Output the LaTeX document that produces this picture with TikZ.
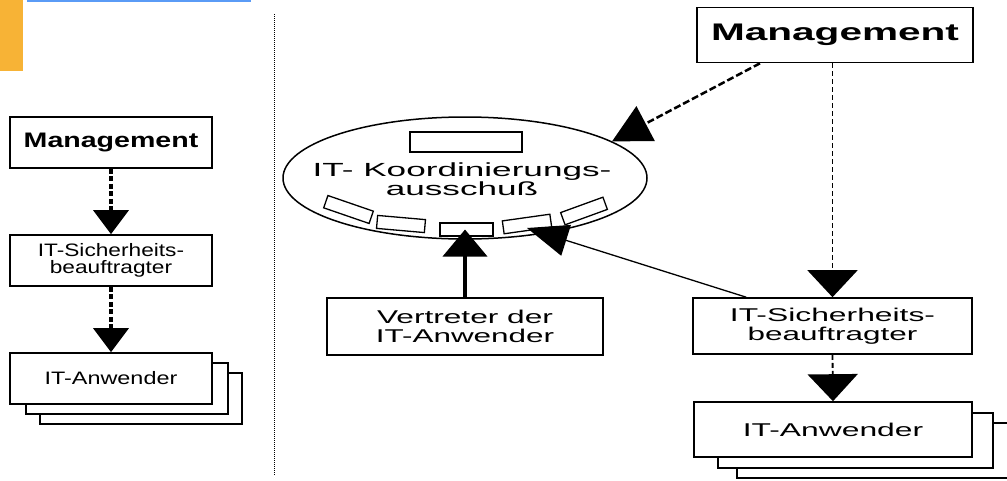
\documentclass[tikz,border=0pt]{standalone}
\usepackage{graphicx}
\usepackage{fontspec}
\setmainfont{Liberation Sans}
\usetikzlibrary{arrows.meta,shapes.geometric}
\definecolor{barorange}{HTML}{F7B336}
\definecolor{barblue}{HTML}{5A9BF6}
\newcommand{\hs}[2]{\scalebox{#1}[1]{#2}}
\begin{document}
\begin{tikzpicture}[x=1pt,y=-1pt,
  box/.style={draw, line width=1.6pt, fill=white, inner sep=0pt, align=center},
  lbox/.style={box, minimum width=202pt, minimum height=51pt, font=\fontsize{18}{17}\selectfont},
  rbox/.style={box, minimum width=278pt, minimum height=56pt, font=\fontsize{18.5}{19}\selectfont},
  slot/.style={draw, line width=1.3pt, fill=white, minimum width=48pt, minimum height=13pt, inner sep=0pt},
  ldash/.style={line width=3.5pt, dash pattern=on 5pt off 2.5pt, -{Triangle[length=24pt,width=35pt]}},
  rdash/.style={line width=1.8pt, dash pattern=on 5pt off 3pt, -{Triangle[length=27pt,width=50pt]}},
  ddash/.style={line width=2.5pt, dash pattern=on 7pt off 3pt, -{Triangle[length=38pt,width=39pt]}},
  thick arrow/.style={line width=4pt, -{Triangle[length=27pt,width=44pt]}},
  thin arrow/.style={line width=1.3pt, -{Triangle[length=41pt,width=32pt]}}
]
\useasboundingbox (0,0) rectangle (1007,480);
% header decorations
\fill[barorange] (0,0) rectangle (23,71);
\fill[barblue] (27,0) rectangle (251,2);
% separator
\draw[line width=1pt, dash pattern=on 1pt off 1pt] (274,14) -- (274,476);

% ---------- left column ----------
\node[lbox, font=\bfseries\fontsize{21}{21}\selectfont] (lmgmt) at (111,142.5) {\hs{1.36}{Management}};
\node[lbox] (lsich) at (111,260.5) {\hs{1.26}{IT-Sicherheits-}\\\hs{1.26}{beauftragter}};
\node[lbox] (lanw3) at (141,398.5) {};
\node[lbox] (lanw2) at (127,388.5) {};
\node[lbox] (lanw) at (111,378.5) {\hs{1.30}{IT-Anwender}};
\draw[ldash] (lmgmt.south) -- (lsich.north);
\draw[ldash] (lsich.south) -- (lanw.north);

% ---------- right part ----------
\node[box, minimum width=276pt, minimum height=55pt, font=\bfseries\fontsize{24}{24}\selectfont] (rmgmt) at (835,35) {\hs{1.69}{Management}};

\node[ellipse, draw, line width=1.5pt, minimum width=364pt, minimum height=122pt, inner sep=0pt,
      label={[align=center, font=\fontsize{19}{17}\selectfont, xshift=-3pt, yshift=-1.5pt]center:{\hs{1.85}{IT- Koordinierungs-}\\\hs{1.85}{ausschuß}}}]
      (kor) at (465,178) {};
\node[draw, line width=1.3pt, minimum width=112pt, minimum height=20pt, inner sep=0pt] (top) at (466,142) {};
\node[slot, rotate=-19] (s1) at (348.5,209.5) {};
\node[slot, rotate=-5] (s2) at (401,224) {};
\node[slot, minimum width=53pt] (s3) at (466.5,229.5) {};
\node[slot, rotate=8] (s4) at (527,224) {};
\node[slot, rotate=20, minimum width=45pt] (s5) at (584,211) {};

\node[box, minimum width=276pt, minimum height=57pt, font=\fontsize{18.5}{19}\selectfont] (vert) at (465,326.5)
      {\hs{1.71}{Vertreter der}\\\hs{1.70}{IT-Anwender}};
\node[rbox, minimum width=279pt] (rsich) at (832.5,326) {\hs{1.72}{IT-Sicherheits-}\\\hs{1.70}{beauftragter}};
\node[rbox, minimum width=279pt, minimum height=55pt] (ranw3) at (876.5,450.5) {};
\node[rbox, minimum width=275pt, minimum height=55pt] (ranw2) at (855.5,440.5) {};
\node[rbox, minimum height=55pt] (ranw) at (833,429.5) {\hs{1.72}{IT-Anwender}};

\draw[ddash] ([xshift=-75pt]rmgmt.south) -- (kor.14);
\draw[rdash] (rsich.north |- rmgmt.south) -- (rsich.north);
\draw[rdash] (rsich.south) -- (ranw.north);
\draw[thick arrow] (vert.north) -- (vert.north |- s3.center);
\draw[thin arrow] ([xshift=54pt]rsich.north west) -- ([yshift=-4pt]s4.center);
\end{tikzpicture}
\end{document}
